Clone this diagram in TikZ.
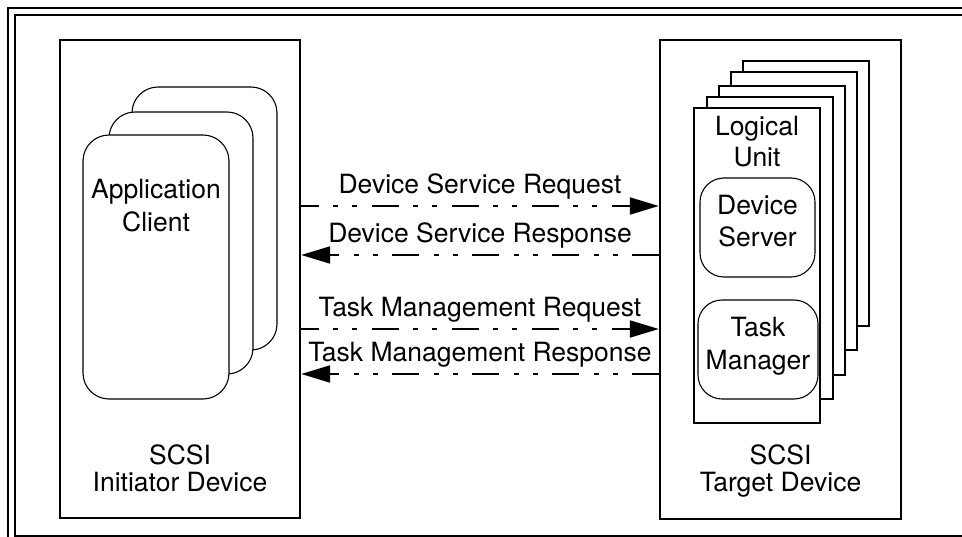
\documentclass[tikz,border=0pt]{standalone}
\usepackage{fontspec}
\setmainfont{TeX Gyre Heros}
\usetikzlibrary{arrows.meta}
\begin{document}
\begin{tikzpicture}[x=1pt,y=-1pt,
  frame/.style={draw, line width=2.2pt},
  devbox/.style={draw, line width=2.4pt, fill=white, inner sep=0pt},
  appbox/.style={draw, line width=1.1pt, fill=white, rounded corners=26pt, inner sep=0pt},
  lubox/.style={draw, line width=2.4pt, fill=white, inner sep=0pt},
  srvbox/.style={draw, line width=1.1pt, fill=white, rounded corners=24pt, inner sep=0pt},
  txt/.style={font=\fontsize{26.5}{#1}\selectfont, align=center, inner sep=0pt, anchor=base},
  txt/.default=32,
  lbl/.style={font=\fontsize{26.5}{32}\selectfont, inner sep=0pt, anchor=base, yshift=12pt},
  flow/.style={line width=2pt, dash pattern=on 27pt off 14pt on 5pt off 14pt on 5pt off 15pt, -{Triangle[length=29pt,width=17pt]}},
]
\useasboundingbox (0,0) rectangle (962,537);
\begin{scope}
  \clip (0,0) rectangle (962,537);
  \draw[frame] (8,8) rectangle (990,560);
  \draw[frame] (15,15) rectangle (983,536);
\end{scope}

% devices
\node[devbox, minimum width=240pt, minimum height=478pt] (ini) at (180,279) {};
\node[devbox, minimum width=241pt, minimum height=479pt] (tgt) at (780.5,279.5) {};

% application clients
\node[appbox, minimum width=145pt, minimum height=263pt] (app3) at (204.5,218.5) {};
\node[appbox, minimum width=144pt, minimum height=262pt] (app2) at (181,243) {};
\node[appbox, minimum width=146pt, minimum height=264pt] (app1) at (156,267) {};
\node[txt=33] (apptxt) at (156,232) {Application\\Client};

% logical units
\node[lubox, minimum width=126pt, minimum height=265pt] (lu5) at (806,193.5) {};
\node[lubox, minimum width=126pt, minimum height=278pt] (lu4) at (794,211) {};
\node[lubox, minimum width=126pt, minimum height=289pt] (lu3) at (782,230.5) {};
\node[lubox, minimum width=126pt, minimum height=302pt] (lu2) at (770,248) {};
\node[lubox, minimum width=126pt, minimum height=315pt] (lu1) at (757,265.5) {};
\node[txt=31] (lutxt) at (757,167) {Logical\\Unit};

\node[srvbox, minimum width=115pt, minimum height=99pt] (ds) at (757.5,227.5) {};
\node[txt=32] (dstxt) at (757.5,247) {Device\\Server};
\node[srvbox, minimum width=120pt, minimum height=99pt] (tm) at (758,349.5) {};
\node[txt=33] (tmtxt) at (758,370) {Task\\Manager};

\node[txt=27] (initxt) at (180,491) {SCSI\\Initiator Device};
\node[txt=27] (tgttxt) at (780.5,491) {SCSI\\Target Device};

% flows
\coordinate (f1) at (0,206);
\coordinate (f2) at (0,255);
\coordinate (f3) at (0,329);
\coordinate (f4) at (0,374);
\draw[flow, dash phase=9pt] (ini.east |- f1) -- node[lbl] (l1) {Device Service Request} (tgt.west |- f1);
\draw[flow] (tgt.west |- f2) -- node[lbl] (l2) {Device Service Response} (ini.east |- f2);
\draw[flow, dash phase=9pt] (ini.east |- f3) -- node[lbl] (l3) {Task Management Request} (tgt.west |- f3);
\draw[flow] (tgt.west |- f4) -- node[lbl] (l4) {Task Management Response} (ini.east |- f4);
\end{tikzpicture}
\end{document}
